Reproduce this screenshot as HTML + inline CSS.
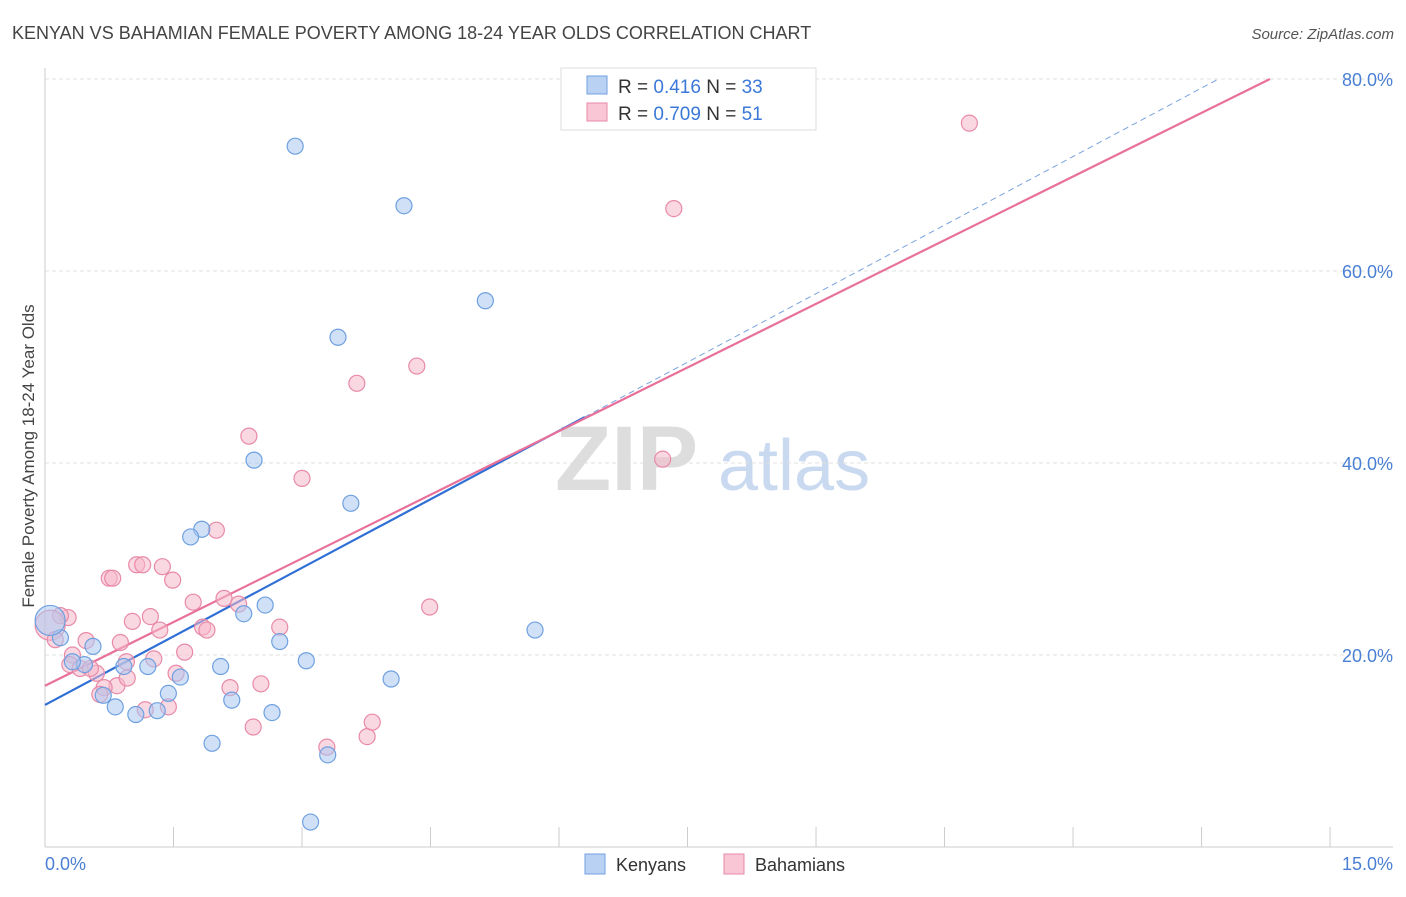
<!DOCTYPE html>
<html><head><meta charset="utf-8"><style>
body{margin:0;background:#fff;font-family:"Liberation Sans",sans-serif}
svg text{font-family:"Liberation Sans",sans-serif}
</style></head><body>
<svg id="chart" width="1406" height="892" xmlns="http://www.w3.org/2000/svg">
<text x="12" y="39" font-size="18" fill="#444">KENYAN VS BAHAMIAN FEMALE POVERTY AMONG 18-24 YEAR OLDS CORRELATION CHART</text>
<text x="1394" y="39" font-size="15" fill="#555" font-style="italic" text-anchor="end">Source: ZipAtlas.com</text>
<g>
<text x="555" y="490" font-size="92" fill="#ddd" font-family="Liberation Serif" font-weight="bold">ZIP</text>
<text x="718" y="490" font-size="72" fill="#c9d9f0">atlas</text>
</g>
<g id="grid"></g>
<g id="axes"></g>
<g id="lines"></g>
<g id="pts"></g>
<text transform="translate(34,456) rotate(-90)" font-size="17" fill="#444" text-anchor="middle">Female Poverty Among 18-24 Year Olds</text>
<g>
<rect x="561" y="68" width="255" height="62" fill="#fff" stroke="#ddd"/>
<rect x="587" y="76" width="20" height="18" fill="#b9d2f3" stroke="#6fa0e0"/>
<rect x="587" y="103" width="20" height="18" fill="#f8c6d5" stroke="#e88aa8"/>
<text x="618" y="93" font-size="19" fill="#333">R = <tspan fill="#3b78d8">0.416</tspan>    N = <tspan fill="#3b78d8">33</tspan></text>
<text x="618" y="120" font-size="19" fill="#333">R = <tspan fill="#3b78d8">0.709</tspan>    N = <tspan fill="#3b78d8">51</tspan></text>
</g>
<g>
<rect x="585" y="854" width="20" height="20" fill="#b9d2f3" stroke="#6fa0e0"/>
<text x="616" y="871" font-size="18" fill="#333">Kenyans</text>
<rect x="724" y="854" width="20" height="20" fill="#f8c6d5" stroke="#e88aa8"/>
<text x="755" y="871" font-size="18" fill="#333">Bahamians</text>
</g>
</svg>
<script>
const kenX=[2.92,4.19,5.14,3.42,2.44,3.57,1.83,1.70,2.57,2.32,2.74,3.05,5.72,4.04,2.05,1.58,1.44,2.18,2.65,1.95,3.30,3.10,0.82,1.06,1.31,0.68,0.92,1.20,0.56,0.46,0.32,0.18,0.06];
const kenY=[73.0,66.8,56.9,53.1,40.3,35.8,33.1,32.3,25.2,24.3,21.4,19.4,22.6,17.5,18.8,17.7,16.0,15.3,14.0,10.8,9.6,2.6,14.6,13.8,14.2,15.8,18.8,18.8,20.9,19.0,19.3,21.8,23.6];
const bahX=[10.79,7.34,4.34,3.64,7.21,2.38,3.00,2.00,0.75,0.79,1.07,1.14,1.37,1.49,1.73,2.09,2.26,2.74,1.23,1.02,1.34,1.84,1.89,0.88,0.48,0.27,0.18,4.49,1.63,1.27,0.95,0.32,0.29,0.60,0.41,0.84,0.69,0.64,1.53,2.16,2.52,1.17,1.44,2.43,3.29,3.76,3.82,0.06,0.12,0.53,0.96];
const bahY=[75.4,66.5,50.1,48.3,40.4,42.8,38.4,33.0,28.0,28.0,29.4,29.4,29.2,27.8,25.5,25.9,25.3,22.9,24.0,23.5,22.6,22.9,22.6,21.3,21.5,23.9,24.1,25.0,20.3,19.6,19.3,20.0,19.0,18.1,18.6,16.8,16.6,15.9,18.1,16.6,17.0,14.3,14.6,12.5,10.4,11.5,13.0,23.1,21.6,18.6,17.6];
const kenLine=[14.8,4.76];
const bahLine=[16.8,4.42];
const yTicks=[20,40,60,80];
const xTickLabels=["0.0%","15.0%"];
const NS="http://www.w3.org/2000/svg";
const X=v=>45+v*85.67, Y=v=>847-v*9.6;
function mk(tag,attrs,parent){const e=document.createElementNS(NS,tag);for(const k in attrs)e.setAttribute(k,attrs[k]);document.getElementById(parent).appendChild(e);return e;}
yTicks.forEach(t=>{
  const l=mk('line',{x1:45,x2:1393,y1:Y(t),y2:Y(t),stroke:'#e0e0e0','stroke-dasharray':'4,3'},'grid');
  
  
  const tx=mk('text',{x:1393,y:Y(t)+7,'font-size':18,fill:'#4a7fd4','text-anchor':'end'},'axes');
  tx.textContent=t.toFixed(1)+'%';
  
  
});
mk('line',{x1:45,x2:45,y1:68,y2:847,stroke:'#ccc'},'axes');
mk('line',{x1:45,x2:1393,y1:847,y2:847,stroke:'#ccc'},'axes');
for(let i=0;i<=10;i++){
  const t=mk('line',{x1:X(i*1.5),x2:X(i*1.5),y1:827,y2:847,stroke:'#ccc'},'axes');
  
  
}
[[0,45,'start'],[1,1393,'end']].forEach(([i,x,a])=>{
  const t=mk('text',{x:x,y:870,'font-size':18,fill:'#4a7fd4','text-anchor':a},'axes');
  t.textContent=xTickLabels[i];
  
  
});
function pts(xs,ys,fill,stroke,name){
  xs.forEach((x,i)=>{
    const r=x<0.1?15:8;
    const c=mk('circle',{cx:X(x),cy:Y(ys[i]),r:r,fill:fill,'fill-opacity':0.55,stroke:stroke,'stroke-width':1.2},'pts');
    
    
  });
}
pts(bahX,bahY,'#f5b8cb','#e88aa8','bahamian-point');
pts(kenX,kenY,'#a9c8f0','#6fa0e0','kenyan-point');
function line(p,x0,x1,col,dash,name){
  const l=mk('line',{x1:X(x0),y1:Y(p[0]+p[1]*x0),x2:X(x1),y2:Y(p[0]+p[1]*x1),stroke:col,'stroke-width':dash?1:2.2},'lines');
  if(dash)l.setAttribute('stroke-dasharray','6,4');
  
  
}
line(kenLine,0,6.3,'#2f6fd6',false,'kenyan-trend-line');
line(kenLine,6.3,(80-kenLine[0])/kenLine[1],'#7aa3e0',true,'kenyan-trend-extension');
line(bahLine,0,(80-bahLine[0])/bahLine[1],'#e8709a',false,'bahamian-trend-line');
</script>
</body></html>
